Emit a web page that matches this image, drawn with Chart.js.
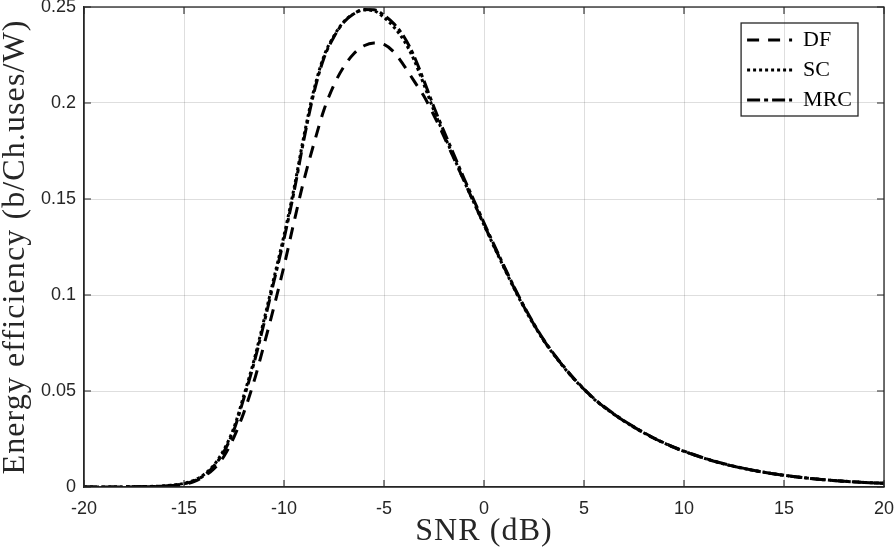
<!DOCTYPE html>
<html>
<head>
<meta charset="utf-8">
<title>Energy efficiency vs SNR</title>
<script src="https://cdn.jsdelivr.net/npm/chart.js@4.4.1/dist/chart.umd.min.js"></script>
<style>
  html, body { margin: 0; padding: 0; background: #fff; }
  #wrap { width: 894px; height: 554px; }
</style>
</head>
<body>
<div id="wrap"><canvas id="myChart"></canvas></div>
<script>
// SNR (dB) sample points
const snr = [-20, -19, -18, -17, -16, -15.5, -15, -14.5, -14, -13.5, -13, -12.5, -12, -11.5, -11, -10.5,
  -10, -9.5, -9, -8.5, -8, -7.5, -7, -6.5, -6, -5.5, -5, -4.5, -4, -3.5, -3, -2.5, -2, -1.5, -1, -0.5,
  0, 0.5, 1, 1.5, 2, 2.5, 3, 3.5, 4, 4.5, 5, 5.5, 6, 6.5, 7, 7.5, 8, 8.5, 9, 9.5, 10,
  11, 12, 13, 14, 15, 16, 17, 18, 19, 20]

// energy efficiency (b/Ch.uses/W)
const df = [0, 0.00001, 0.00004, 0.00015, 0.0004, 0.0008, 0.0013, 0.0028, 0.0055, 0.0095, 0.016, 0.026, 0.039, 0.055, 0.074, 0.094,
  0.115, 0.138, 0.160, 0.179, 0.1965, 0.2095, 0.219, 0.2258, 0.2298, 0.2313, 0.2305, 0.2265, 0.2195, 0.2115, 0.2035, 0.1935, 0.1825, 0.171, 0.1595, 0.148,
  0.1367, 0.1255, 0.1145, 0.1038, 0.0938, 0.0846, 0.0762, 0.069, 0.0624, 0.0563, 0.0509, 0.046, 0.0417, 0.0379, 0.0344, 0.0312, 0.0282, 0.0254, 0.0229, 0.0206, 0.0186,
  0.015, 0.012, 0.0096, 0.0077, 0.0061, 0.0048, 0.0038, 0.003, 0.0024, 0.0019]

const sc = [0, 0.00002, 0.00006, 0.0002, 0.0006, 0.0011, 0.0019, 0.0035, 0.0065, 0.0115, 0.0195, 0.031, 0.048, 0.066, 0.087, 0.109,
  0.131, 0.1555, 0.183, 0.207, 0.2245, 0.235, 0.2425, 0.2465, 0.2485, 0.248, 0.2445, 0.2395, 0.2325, 0.2225, 0.2095, 0.196, 0.1835, 0.1715, 0.1595, 0.148,
  0.1365, 0.1252, 0.1142, 0.1035, 0.0935, 0.0843, 0.076, 0.0688, 0.0622, 0.0562, 0.0508, 0.0458, 0.0416, 0.0378, 0.0343, 0.0311, 0.0281, 0.0254, 0.0229, 0.0206, 0.0186,
  0.015, 0.012, 0.0096, 0.0077, 0.0061, 0.0048, 0.0038, 0.003, 0.0024, 0.0019]

const mrc = [0, 0.00002, 0.00005, 0.0002, 0.0005, 0.001, 0.0017, 0.0032, 0.006, 0.011, 0.0185, 0.0298, 0.0465, 0.0645, 0.0852, 0.1072,
  0.1292, 0.1537, 0.1812, 0.2055, 0.2235, 0.2345, 0.2422, 0.2465, 0.2487, 0.2486, 0.2457, 0.2412, 0.2345, 0.2245, 0.2115, 0.1978, 0.1852, 0.173, 0.1608, 0.1492,
  0.1376, 0.1262, 0.1151, 0.1043, 0.0942, 0.0849, 0.0765, 0.0692, 0.0626, 0.0565, 0.0511, 0.0461, 0.0419, 0.038, 0.0345, 0.0313, 0.0283, 0.0255, 0.023, 0.0207, 0.0187,
  0.0151, 0.0121, 0.0097, 0.0077, 0.0061, 0.0048, 0.0038, 0.003, 0.0024, 0.0019]

const xTicks = [-20, -15, -10, -5, 0, 5, 10, 15, 20]
const yTicks = [0, 0.05, 0.1, 0.15, 0.2, 0.25]

const axisColor = '#262626'
const serif = "'Liberation Serif', 'Times New Roman', serif"
const sans = "'Liberation Sans', Arial, sans-serif"
const legendSize = 22
const legendPad = 8
const sampleWidth = 45
const tickLen = 7

const toPoints = ys => snr.map((x, i) => ({ x, y: ys[i] }))

// the LaTeX font is wider than Times, so space out the axis titles a little
function spacedTitle (scale) {
  const draw = Chart.Scale.prototype.drawTitle
  scale.drawTitle = function () {
    this.ctx.save()
    this.ctx.letterSpacing = '1.1px'
    draw.call(this)
    this.ctx.restore()
  }
}

// box round the axes, inward ticks, legend moved into the top right corner with a frame
const framePlugin = {
  id: 'frame',
  afterLayout (chart) {
    const lg = chart.legend
    const ca = chart.chartArea
    const ctx = chart.ctx
    ctx.save()
    ctx.font = `${legendSize}px ${serif}`
    const textW = Math.max(...chart.data.datasets.map(d => ctx.measureText(d.label).width))
    ctx.restore()
    const itemW = sampleWidth + legendSize / 2 + textW
    const n = chart.data.datasets.length
    const x0 = ca.right - 26 - itemW - 12
    const y0 = ca.top + 16
    lg.left = x0 + 6 - legendPad
    lg.right = lg.left + itemW + 2 * legendPad + 10
    lg.top = y0 + 6 - legendPad
    lg.bottom = ca.bottom
    this._box = { x0, y0, w: itemW + 12, h: 6 + n * legendSize + (n - 1) * legendPad + 5 }
    spacedTitle(chart.scales.x)
    spacedTitle(chart.scales.y)
  },
  afterDraw (chart) {
    const { ctx, chartArea: { left, top, right, bottom }, scales: { x, y } } = chart
    ctx.save()
    ctx.strokeStyle = axisColor
    ctx.lineWidth = 1.1
    ctx.beginPath()
    x.ticks.forEach(t => {
      const px = x.getPixelForValue(t.value)
      ctx.moveTo(px, bottom); ctx.lineTo(px, bottom - tickLen)
      ctx.moveTo(px, top); ctx.lineTo(px, top + tickLen)
    })
    y.ticks.forEach(t => {
      const py = y.getPixelForValue(t.value)
      ctx.moveTo(left, py); ctx.lineTo(left + tickLen, py)
      ctx.moveTo(right, py); ctx.lineTo(right - tickLen, py)
    })
    ctx.stroke()
    ctx.lineWidth = 1.3
    ctx.strokeRect(left, top, right - left, bottom - top)
    const b = this._box
    if (b) ctx.strokeRect(b.x0, b.y0, b.w, b.h)
    ctx.restore()
  },
}

new Chart(document.getElementById('myChart'), {
  type: 'line',
  data: {
    datasets: [
      {
        label: 'DF',
        data: toPoints(df),
        borderColor: '#000',
        borderWidth: 3,
        borderDash: [12, 9],
      },
      {
        label: 'SC',
        data: toPoints(sc),
        borderColor: '#000',
        borderWidth: 3,
        borderDash: [3, 3],
      },
      {
        label: 'MRC',
        data: toPoints(mrc),
        borderColor: '#000',
        borderWidth: 3,
        borderDash: [13, 4, 4, 4],
      },
    ],
  },
  options: {
    responsive: true,
    maintainAspectRatio: false,
    animation: false,
    layout: { padding: { top: 7, right: 10, left: 0, bottom: 0 } },
    elements: {
      point: { radius: 0 },
      line: { cubicInterpolationMode: 'monotone', fill: false },
    },
    plugins: {
      tooltip: { enabled: false },
      legend: {
        position: 'chartArea',
        align: 'start',
        labels: {
          color: '#000',
          font: { family: serif, size: legendSize },
          usePointStyle: true,
          pointStyle: 'line',
          pointStyleWidth: sampleWidth,
          padding: legendPad,
          generateLabels (chart) {
            const items = Chart.defaults.plugins.legend.labels.generateLabels(chart)
            items.forEach((item, i) => {
              const ds = chart.data.datasets[i]
              item.lineDash = ds.borderDash
              item.lineWidth = ds.borderWidth
              item.strokeStyle = ds.borderColor
              item.pointStyle = 'line'
            })
            return items
          },
        },
      },
    },
    scales: {
      x: {
        type: 'linear',
        min: xTicks[0],
        max: xTicks[xTicks.length - 1],
        afterFit (scale) {
          scale.height = 67
          scale.paddingLeft = 0
          scale.paddingRight = 0
        },
        afterBuildTicks (scale) { scale.ticks = xTicks.map(v => ({ value: v })) },
        ticks: {
          color: axisColor,
          font: { family: sans, size: 18 },
          padding: 11,
          maxRotation: 0,
          callback: v => String(v),
        },
        grid: { color: 'rgba(0,0,0,0.13)', drawTicks: false },
        border: { color: axisColor, width: 1.3 },
        title: {
          display: true,
          text: 'SNR (dB)',
          color: axisColor,
          font: { family: serif, size: 32 },
          padding: { top: 0, bottom: 3 },
        },
      },
      y: {
        min: yTicks[0],
        max: yTicks[yTicks.length - 1],
        afterFit (scale) {
          scale.width = 84
          scale.paddingTop = 0
          scale.paddingBottom = 0
        },
        afterBuildTicks (scale) { scale.ticks = yTicks.map(v => ({ value: v })) },
        ticks: {
          color: axisColor,
          font: { family: sans, size: 18 },
          padding: 8,
          callback: v => String(Number(v.toFixed(2))),
        },
        grid: { color: 'rgba(0,0,0,0.13)', drawTicks: false },
        border: { color: axisColor, width: 1.3 },
        title: {
          display: true,
          text: 'Energy efficiency (b/Ch.uses/W)',
          color: axisColor,
          font: { family: serif, size: 32, lineHeight: 1 },
          padding: { top: 0, bottom: 0 },
        },
      },
    },
  },
  plugins: [framePlugin],
})
</script>
</body>
</html>
